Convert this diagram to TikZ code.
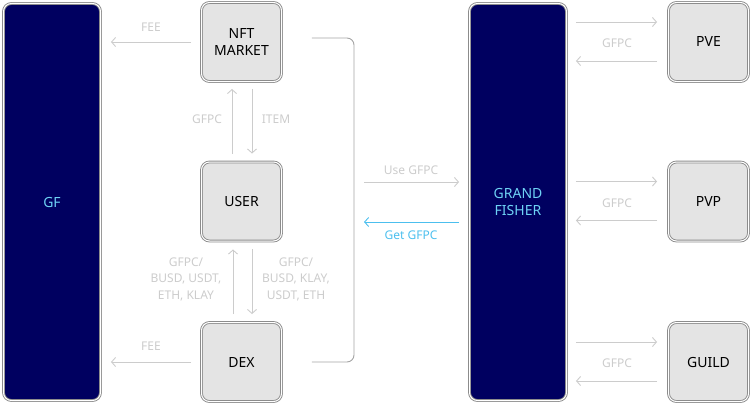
\documentclass[tikz,border=0pt]{standalone}
\usepackage{fontspec}
\setmainfont{Noto Sans}
\usetikzlibrary{arrows.meta}
\definecolor{navy}{HTML}{000060}
\definecolor{boxfill}{HTML}{E4E4E4}
\definecolor{boxline}{HTML}{8C8C8C}
\definecolor{arrgray}{HTML}{CCCCCC}
\definecolor{titlecyan}{HTML}{6ED2F5}
\definecolor{getblue}{HTML}{4CBFEE}
\tikzset{
  box/.style={draw=boxline, double=white, double distance=1pt, line width=0.9pt,
    fill=boxfill, rounded corners=8pt, minimum width=80pt, minimum height=79pt,
    inner sep=0pt, align=center, font=\fontsize{14}{17}\selectfont, text=black},
  bigbox/.style={box, fill=navy, minimum width=97pt, minimum height=397pt, text=titlecyan},
  arr/.style={draw=arrgray, line width=0.9pt, -{Straight Barb[length=4pt,width=9pt,line width=0.9pt]}},
  lab/.style={text=arrgray, font=\fontsize{12}{16.5}\selectfont, align=center, inner sep=0pt},
  ulab/.style={lab, font=\fontsize{12}{16}\selectfont},
}
\begin{document}
\begin{tikzpicture}[x=1pt,y=-1pt]
\useasboundingbox (0,0) rectangle (751,404);
\node[bigbox] (gf) at (52,202) {GF};
\node[bigbox] (gfsh) at (518,202) {GRAND\\FISHER};
\node[box] (nft) at (241.5,42) {NFT\\MARKET};
\node[box] (user) at (241.5,201.5) {USER};
\node[box] (dex) at (241.5,362) {DEX};
\node[box] (pve) at (708.5,42) {PVE};
\node[box] (pvp) at (708.5,201.5) {PVP};
\node[box] (guild) at (708.5,362) {GUILD};

% FEE arrows
\draw[arr] ([xshift=-10pt]nft.west) -- ([xshift=10pt]gf.east |- nft.west);
\node[lab] (fee1) at (151,27) {FEE};
\draw[arr] ([xshift=-10pt]dex.west) -- ([xshift=10pt]gf.east |- dex.west);
\node[lab] (fee2) at (151,346) {FEE};

% NFT <-> USER
\draw[arr] ([xshift=-9.5pt,yshift=8pt]user.north) -- ([xshift=-9.5pt,yshift=-7pt]nft.south);
\draw[arr] ([xshift=10.5pt,yshift=-7pt]nft.south) -- ([xshift=10.5pt,yshift=8pt]user.north);
\node[lab] (l1) at (207,119) {GFPC};
\node[lab] (l2) at (276,119) {ITEM};

% USER <-> DEX
\draw[arr] ([xshift=-8.5pt,yshift=8pt]dex.north) -- ([xshift=-8.5pt,yshift=-8pt]user.south);
\draw[arr] ([xshift=10.5pt,yshift=-8pt]user.south) -- ([xshift=10.5pt,yshift=8pt]dex.north);
\node[lab] (l3) at (186,279) {GFPC/\\BUSD, USDT,\\ETH, KLAY};
\node[lab] (l4) at (296,279) {GFPC/\\BUSD, KLAY,\\USDT, ETH};

% bracket
\coordinate (brk) at (354,202);
\draw[draw=boxline!80, line width=0.9pt, rounded corners=7pt]
  ([xshift=30pt,yshift=4pt]nft.east) -| (brk) |- ([xshift=30pt]dex.east);

% Use / Get GFPC
\draw[arr] ([xshift=10pt,yshift=20pt]brk) -- ([xshift=-10pt,yshift=20pt]gfsh.west);
\node[ulab] (use) at (411,170) {Use GFPC};
\draw[arr, draw=getblue, -{Straight Barb[length=4pt,width=9pt,line width=0.9pt]}] ([xshift=-10pt,yshift=-20pt]gfsh.west) -- ([xshift=10pt,yshift=-20pt]brk);
\node[ulab, text=getblue] (get) at (411,235) {Get GFPC};

% right side
\foreach \n in {pve,pvp,guild}{
  \draw[arr] ([xshift=9pt]gfsh.east |- \n.west) ++(0,-20) -- ([xshift=-11pt,yshift=20pt]\n.west);
  \draw[arr] ([xshift=-11pt,yshift=-19pt]\n.west) -- ([xshift=9pt,yshift=-19pt]gfsh.east |- \n.west);
}
\node[lab] (r1) at (617,43) {GFPC};
\node[lab] (r2) at (617,203) {GFPC};
\node[lab] (r3) at (617,363) {GFPC};
\end{tikzpicture}
\end{document}
